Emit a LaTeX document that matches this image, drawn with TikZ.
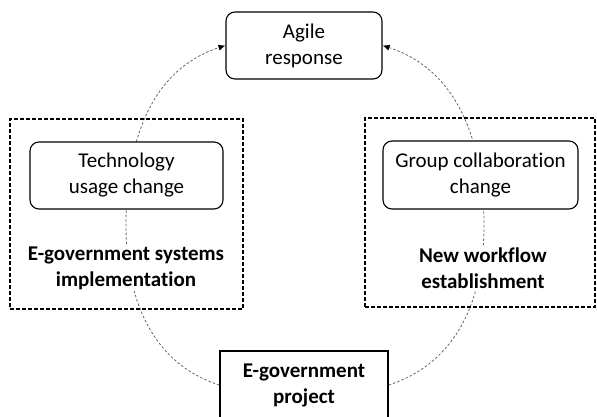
\documentclass[tikz,border=0pt]{standalone}
\usepackage{fontspec}
\setmainfont{Carlito}[Ligatures=NoCommon]
\usetikzlibrary{arrows.meta,backgrounds}

\begin{document}
\begin{tikzpicture}[x=1pt, y=1pt,
    rahmen/.style={draw, line width=1.1pt, dash pattern=on 4pt off 2pt, minimum width=233pt, minimum height=190pt, inner sep=0pt},
    kasten/.style={draw, line width=1.1pt, rounded corners=9pt, fill=white, minimum width=193pt, minimum height=67pt, align=center, inner sep=0pt, font=\fontsize{21}{26}\selectfont},
    titel/.style={fill=white, align=center, inner sep=2pt, font=\bfseries\fontsize{21}{26}\selectfont},
    pfeil/.style={black!60, line width=0.8pt, dash pattern=on 2.5pt off 2pt, -{Latex[black,length=7pt,width=6pt]}}]

    \useasboundingbox (0,0) rectangle (597,417);

    % Rahmen
    \node[rahmen] (links) at (126.5,203) {};
    \node[rahmen, minimum width=230pt, minimum height=189pt] (rechts) at (480,204.5) {};

    % Knoten
    \node[kasten, minimum width=156pt] (agile) at (304,371.5) {Agile\\response};
    \node[kasten] (technik) at (126.5,241.5) {Technology\\usage change};
    \node[kasten, minimum width=195pt, minimum height=68pt] (gruppe) at (480.5,242) {Group collaboration\\change};
    \node[titel] (system) at (126,149) {E-government systems\\implementation};
    \node[titel] (ablauf) at (483,149) {New workflow\\establishment};
    \node[kasten, rounded corners=0pt, line width=1.5pt, font=\bfseries\fontsize{21}{26}\selectfont,
          minimum width=168pt, minimum height=68pt] (projekt) at (304,32) {E-government\\project};

    % Hilfspunkte
    \coordinate (wl) at (126,192);
    \coordinate (wr) at (484,192);

    % Verbindungen (hinter den Kästen)
    \begin{scope}[on background layer]
      \draw[pfeil] (projekt.west) to[out=162,in=-90] (wl) to[out=90,in=198] (agile.west);
      \draw[pfeil] (projekt.east) to[out=18,in=-90] (wr) to[out=90,in=-18] (agile.east);
    \end{scope}

\end{tikzpicture}
\end{document}
